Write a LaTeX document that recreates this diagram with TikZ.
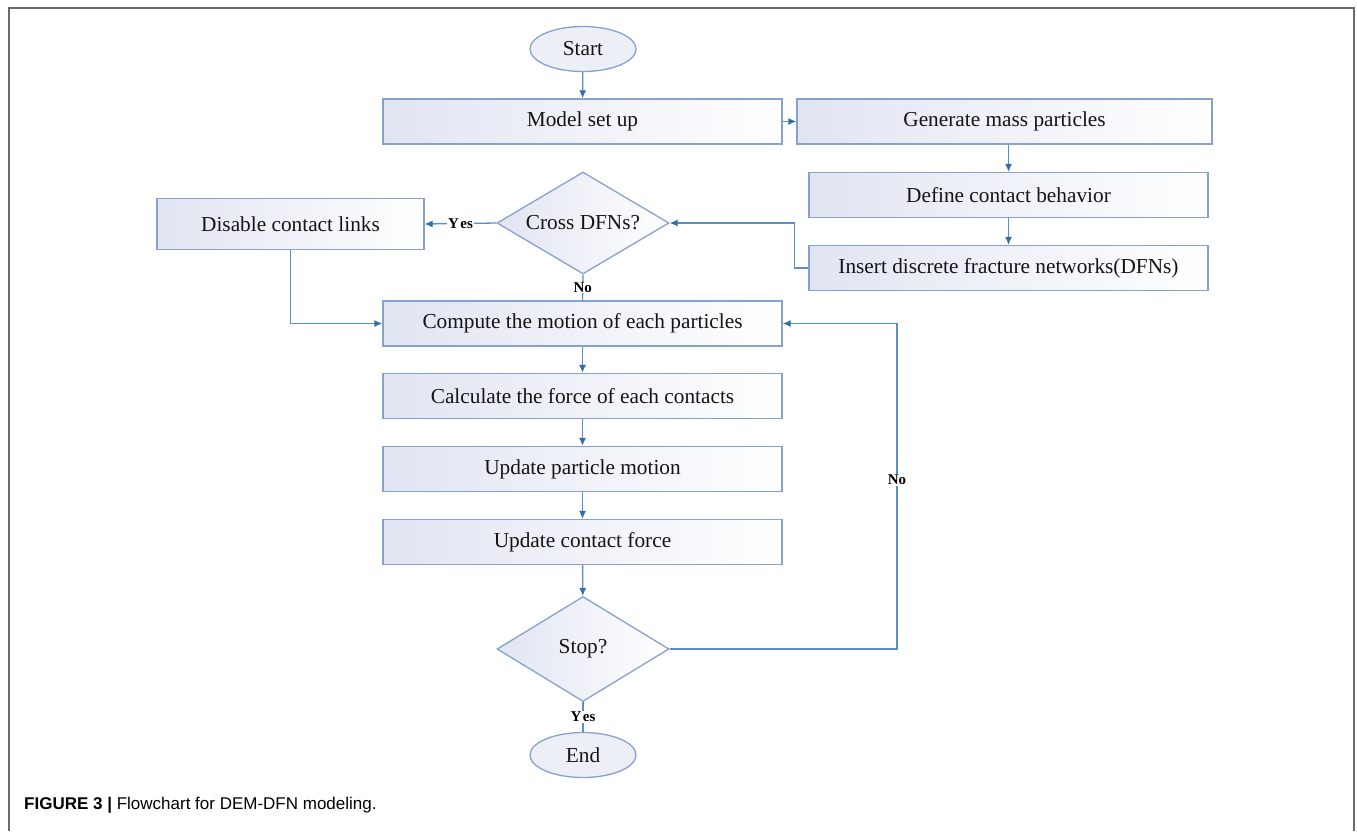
\documentclass[tikz,border=0pt]{standalone}
\usepackage{fontspec}
\setmainfont{Liberation Serif}
\newfontfamily\capfont{Liberation Sans}
\usetikzlibrary{shapes.geometric,arrows.meta}
\definecolor{bord}{HTML}{86A2CC}
\definecolor{arr}{HTML}{5A8FC6}
\definecolor{tipc}{HTML}{2F6EA8}
\definecolor{shd}{HTML}{E1E5F2}
\definecolor{frm}{HTML}{6B6B6B}
\begin{document}
\begin{tikzpicture}[x=1pt,y=-1pt,
  txt/.style={font=\fontsize{21.3}{24}\selectfont, text=black!92},
  procbox/.style={txt, draw=bord, line width=1.3pt, left color=shd, right color=white,
    minimum height=45pt, inner sep=0pt},
  decis/.style={txt, diamond, draw=bord, line width=1.3pt, left color=shd, right color=white,
    minimum width=172pt, minimum height=102pt, inner sep=0pt, aspect=1.65},
  term/.style={txt, ellipse, draw=bord, line width=1.3pt, fill=shd!60,
    minimum width=106pt, minimum height=45pt, inner sep=0pt},
  conn/.style={draw=arr, line width=1.3pt, -{Latex[length=8pt,width=7pt,color=tipc]}},
  plain/.style={draw=arr, line width=1.3pt},
  lab/.style={fill=white, inner sep=1pt, font=\bfseries\fontsize{15}{15}\selectfont}
]
\useasboundingbox (0,0) rectangle (1357,831);
\draw[frm, line width=2pt] (9,831) -- (9,8) -- (1354,8) -- (1354,831);

\node[term] (start) at (583,49) {Start};
\node[procbox, minimum width=399pt] (model) at (582.5,121.5) {Model set up};
\node[procbox, minimum width=415pt] (gen) at (1004.5,121.5) {Generate mass particles};
\node[procbox, minimum width=399pt] (def) at (1008.5,195) {Define contact behavior};
\node[procbox, minimum width=399pt] (ins) at (1008.5,268) {Insert discrete fracture networks(DFNs)};
\node[decis] (cross) at (583,223) {Cross DFNs?};
\node[procbox, minimum width=267pt, minimum height=51pt] (dis) at (290.5,224) {Disable contact links};
\node[procbox, minimum width=399pt] (comp) at (582.5,323.5) {Compute the motion of each particles};
\node[procbox, minimum width=399pt] (calc) at (582.5,396) {Calculate the force of each contacts};
\node[procbox, minimum width=399pt] (updp) at (582.5,469) {Update particle motion};
\node[procbox, minimum width=399pt] (updc) at (582.5,542) {Update contact force};
\node[decis, minimum height=105pt] (stop) at (583,649) {Stop?};
\node[term] (end) at (583,755) {End};
\coordinate (loop) at (897,649);

\draw[conn] (start) -- (model);
\draw[conn] (model) -- (gen);
\draw[conn] (gen.south -| def.north) -- (def.north);
\draw[conn] (def) -- (ins);
\draw[conn] (ins.west) -- ++(-14,0) |- (cross.east);
\draw[conn] (cross.west) -- node[lab]{Y\hspace{1.5pt}es} (dis.east);
\draw[plain] (cross.south) -- node[lab]{No} (comp.north);
\draw[conn] (dis.south) |- (comp.west);
\draw[conn] (comp) -- (calc);
\draw[conn] (calc) -- (updp);
\draw[conn] (updp) -- (updc);
\draw[conn] (updc) -- (stop);
\draw[conn] (stop.east) -- (loop) |- node[lab, pos=0.26]{No} (comp.east);
\draw[plain] (stop.south) -- node[lab]{Y\hspace{1.5pt}es} (end.north);

\node[anchor=west, inner sep=0pt, font=\capfont\fontsize{17}{20}\selectfont] (cap) at (24,805)
  {\textbf{FIGURE 3 |} Flowchart for DEM-DFN modeling.};
\end{tikzpicture}
\end{document}
